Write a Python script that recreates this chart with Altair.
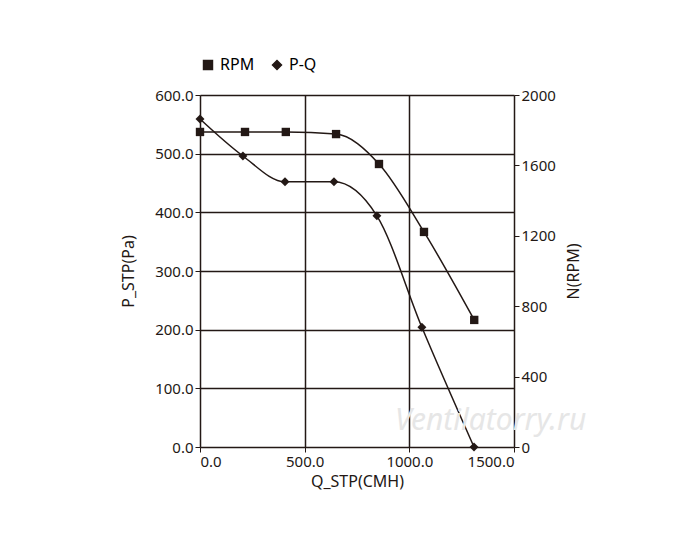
import altair as alt
import pandas as pd

q_rpm = [0, 215, 410, 650, 855, 1070, 1310]
rpm = [1790, 1790, 1790, 1778, 1608, 1222, 722]
q_pq = [0, 205, 406, 640, 845, 1060, 1309]
pq = [559, 496, 452, 452, 394, 204, 0]

d1 = pd.DataFrame({"q": q_rpm, "v": rpm, "s": "RPM"})
d2 = pd.DataFrame({"q": q_pq, "v": pq, "s": "P-Q"})

F = "Noto Sans"
C = "#231815"
col = alt.Color("s:N", scale=alt.Scale(domain=["RPM", "P-Q"], range=[C, C]),
                legend=alt.Legend(orient="top", title=None, labelFontSize=16, labelFont=F,
                                  symbolSize=80, symbolStrokeWidth=1.5, columnPadding=14, offset=22))
shp = alt.Shape("s:N", scale=alt.Scale(domain=["RPM", "P-Q"], range=["square", "diamond"]))
xs = alt.Scale(domain=[0, 1500], nice=False, padding=0, zero=True)
xenc = alt.X("q:Q", scale=xs,
             axis=alt.Axis(title="Q_STP(CMH)", values=[0, 500, 1000, 1500], format=".1f",
                           grid=True, gridColor=C, gridWidth=1.5, domain=False,
                           tickColor=C, labelFontSize=15, titleFontSize=16, titleFontWeight="normal",
                           labelFont=F, titleFont=F, labelColor=C, titleColor=C))
xplain = alt.X("q:Q", scale=xs)

left = alt.Y("v:Q", scale=alt.Scale(domain=[0, 600], nice=False, padding=0),
             axis=alt.Axis(title="P_STP(Pa)", values=list(range(0, 601, 100)), format=".1f",
                           grid=True, gridColor=C, gridWidth=1.5, domain=False,
                           tickColor=C, labelFontSize=15, titleFontSize=16, titlePadding=18,
                           titleFontWeight="normal",
                           labelFont=F, titleFont=F, labelColor=C, titleColor=C))
rs = alt.Scale(domain=[0, 2000], nice=False, padding=0)
right = alt.Y("v:Q", scale=rs,
              axis=alt.Axis(title="N(RPM)", orient="right", values=list(range(0, 2001, 200)),
                            format="d", labelOverlap=False, titleAngle=270,
                            grid=False, domain=False, tickColor=C, labelFontSize=15,
                            titleFontSize=16, titlePadding=26, titleFontWeight="normal",
                            labelFont=F, titleFont=F, labelColor=C, titleColor=C))

pqL = alt.Chart(d2).mark_line(interpolate="monotone", strokeWidth=1.5).encode(x=xenc, y=left, color=col)
pqP = alt.Chart(d2).mark_point(filled=True, size=80, opacity=1).encode(x=xplain, y="v:Q", color=col, shape=shp)
rL = alt.Chart(d1).mark_line(interpolate="monotone", strokeWidth=1.5).encode(x=xplain, y=right, color=col)
rP = alt.Chart(d1).mark_point(filled=True, size=70, opacity=1).encode(x=xplain, y="v:Q", color=col, shape=shp)

wm = alt.Chart(pd.DataFrame({"t": ["Ventilatorry.ru"]})).mark_text(
    fontSize=30, font=F, fontStyle="italic", color="#e6e6e6", align="left").encode(
    text="t:N", x=alt.value(195), y=alt.value(326))

chart = alt.layer(alt.layer(pqL, pqP), alt.layer(rL, rP)).resolve_scale(y="independent")
chart = alt.layer(chart, wm).properties(width=314, height=352).configure_view(
    stroke=C, strokeWidth=1.5).configure(padding={"left": 112, "top": 49, "right": 20, "bottom": 10})
chart.save("out.html", embed_options={"renderer": "svg", "actions": False})
